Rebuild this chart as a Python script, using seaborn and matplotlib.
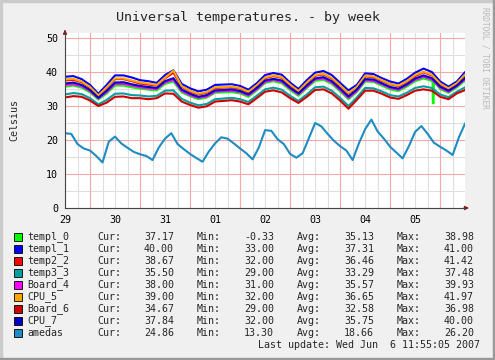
# -*- coding: utf-8 -*-
"""
Weekly temperature graph (RRDtool style) rebuilt with seaborn / matplotlib.
Saves out.png (495x360).
"""
import pandas as pd
import matplotlib
matplotlib.use("Agg")
import matplotlib.pyplot as plt
import matplotlib.dates as mdates
from matplotlib.patches import Rectangle
from matplotlib.ticker import MultipleLocator, NullFormatter
import seaborn as sns

# --- data ---
START = pd.Timestamp("2007-05-29 12:00")
END = pd.Timestamp("2007-06-06 11:55")
t_4h = pd.date_range(START, periods=49, freq="4h")   # band sensors
t_3h = pd.date_range(START, periods=65, freq="3h")   # amedas

templ_0 = [35.7, 36.0, 35.4, 34.0, 31.9, 33.7, 36.0, 36.0, 35.5, 35.1, 34.8, 34.6, 36.5,
           37.2, 34.0, 32.9, 32.0, 32.5, 33.9, 34.0, 34.1, 33.7, 32.7, 34.6, 36.8,
           37.3, 36.7, 34.7, 33.0, 35.3, 37.4, 37.7, 36.5, 34.3, 32.0, 34.1, 37.2,
           37.1, 36.0, 34.9, 34.4, 35.7, 37.3, 38.1, 37.4, 35.0, 33.9, 35.5, 37.5]
# short dropout of templ_0 on the 5th
templ_0_glitch_t = pd.to_datetime(["2007-06-05 20:20", "2007-06-05 20:30",
                                   "2007-06-05 20:50", "2007-06-05 21:00"])
templ_0_glitch_v = [37.3, 30.8, 30.8, 37.2]

templ_1 = [38.6, 38.8, 37.9, 36.2, 33.6, 36.2, 39.0, 39.0, 38.4, 37.6, 37.3, 36.8, 39.1,
           40.5, 36.5, 35.2, 34.3, 34.8, 36.2, 36.3, 36.4, 35.9, 34.8, 36.7, 39.1,
           39.7, 39.2, 36.9, 35.0, 37.6, 39.8, 40.3, 39.1, 36.8, 34.6, 36.2, 39.6,
           39.4, 38.2, 37.2, 36.6, 38.0, 39.8, 41.0, 40.0, 37.2, 35.7, 37.2, 40.0]

temp2_2 = [37.5, 37.7, 37.0, 35.4, 33.0, 35.3, 37.9, 37.9, 37.3, 36.6, 36.3, 36.0, 38.1,
           39.8, 35.6, 34.3, 33.4, 33.9, 35.3, 35.4, 35.5, 35.1, 34.0, 35.9, 38.2,
           38.8, 38.3, 36.1, 34.3, 36.7, 38.9, 39.3, 38.1, 35.9, 33.6, 35.4, 38.7,
           38.5, 37.4, 36.4, 35.8, 37.1, 38.8, 39.9, 39.0, 36.4, 35.0, 36.6, 39.0]

temp3_3 = [33.4, 33.8, 33.5, 32.3, 30.5, 31.8, 33.6, 33.7, 33.2, 33.1, 32.8, 33.0, 34.5,
           34.6, 32.1, 31.0, 30.2, 30.6, 32.0, 32.2, 32.4, 32.0, 31.2, 33.0, 34.9,
           35.4, 34.8, 33.0, 31.5, 33.4, 35.5, 35.7, 34.5, 32.4, 30.0, 32.5, 35.3,
           35.2, 34.3, 33.2, 32.8, 33.9, 35.3, 35.8, 35.3, 33.4, 32.6, 34.2, 35.5]

Board_4 = [36.2, 36.4, 35.8, 34.4, 32.2, 34.1, 36.5, 36.5, 36.0, 35.5, 35.2, 35.0, 36.9,
           37.7, 34.4, 33.2, 32.4, 32.8, 34.2, 34.4, 34.5, 34.1, 33.1, 34.9, 37.1,
           37.7, 37.1, 35.1, 33.4, 35.6, 37.8, 38.1, 36.9, 34.7, 32.4, 34.4, 37.6,
           37.4, 36.4, 35.3, 34.8, 36.1, 37.7, 38.6, 37.8, 35.4, 34.2, 35.8, 37.9]

CPU_5 = [37.8, 38.0, 37.2, 35.6, 33.1, 35.5, 38.1, 38.1, 37.5, 36.9, 36.6, 36.2, 38.3,
         40.4, 35.8, 34.5, 33.6, 34.1, 35.5, 35.6, 35.7, 35.3, 34.2, 36.1, 38.4,
         39.0, 38.5, 36.3, 34.4, 36.9, 39.1, 39.5, 38.3, 36.1, 33.8, 35.6, 38.9,
         38.7, 37.6, 36.5, 36.0, 37.3, 39.1, 40.1, 39.2, 36.6, 35.2, 36.7, 39.3]

Board_6 = [32.5, 32.9, 32.7, 31.6, 30.0, 31.0, 32.7, 32.8, 32.3, 32.3, 32.0, 32.3, 33.7,
           33.6, 31.3, 30.3, 29.5, 29.9, 31.3, 31.5, 31.7, 31.3, 30.5, 32.3, 34.2,
           34.6, 34.0, 32.3, 30.9, 32.7, 34.7, 34.9, 33.7, 31.6, 29.2, 31.8, 34.5,
           34.5, 33.6, 32.5, 32.1, 33.2, 34.5, 34.9, 34.5, 32.7, 32.0, 33.7, 34.7]

CPU_7 = [36.6, 36.9, 36.2, 34.7, 32.4, 34.5, 36.9, 37.0, 36.4, 35.9, 35.6, 35.3, 37.3,
         38.2, 34.8, 33.6, 32.7, 33.2, 34.6, 34.7, 34.9, 34.4, 33.4, 35.3, 37.5,
         38.0, 37.5, 35.4, 33.7, 36.0, 38.1, 38.5, 37.3, 35.1, 32.8, 34.8, 37.9,
         37.8, 36.7, 35.6, 35.1, 36.4, 38.1, 39.0, 38.2, 35.7, 34.5, 36.0, 38.3]

amedas = [22.0, 21.8, 18.8, 17.5, 16.9, 15.3, 13.4, 19.5, 21.0, 19.0, 17.7, 16.5, 15.8, 15.3, 14.1, 17.8, 20.4,
          22.0, 18.8, 17.3, 15.9, 14.7, 13.6, 16.6, 19.0, 20.8, 20.4, 19.0, 17.5, 16.1, 14.3, 17.8, 22.9,
          22.7, 20.2, 18.8, 15.9, 14.8, 16.1, 20.5, 25.0, 24.0, 21.8, 19.8, 18.2, 16.9, 14.1, 19.0, 23.2,
          26.0, 22.5, 20.4, 18.0, 16.3, 14.6, 18.2, 22.4, 24.1, 21.8, 19.2, 18.0, 16.9, 15.6, 20.8, 24.9]

names = ["templ_0", "templ_1", "temp2_2", "temp3_3", "Board_4",
         "CPU_5", "Board_6", "CPU_7", "amedas"]
colors = ["#00FF00", "#0000FF", "#FF0000", "#00A0A0", "#FF00FF",
          "#FFA500", "#CC0000", "#0000C0", "#1E8BC3"]

# legend statistics (as printed under the graph)
cur_vals = [37.17, 40.00, 38.67, 35.50, 38.00, 39.00, 34.67, 37.84, 24.86]
min_vals = [-0.33, 33.00, 32.00, 29.00, 31.00, 32.00, 29.00, 32.00, 13.30]
avg_vals = [35.13, 37.31, 36.46, 33.29, 35.57, 36.65, 32.58, 35.75, 18.66]
max_vals = [38.98, 41.00, 41.42, 37.48, 39.93, 41.97, 36.98, 40.00, 26.20]

# --- long-form table for seaborn ---
series = {
    "templ_0": (t_4h.append(templ_0_glitch_t), templ_0 + templ_0_glitch_v),
    "templ_1": (t_4h, templ_1),
    "temp2_2": (t_4h, temp2_2),
    "temp3_3": (t_4h, temp3_3),
    "Board_4": (t_4h, Board_4),
    "CPU_5": (t_4h, CPU_5),
    "Board_6": (t_4h, Board_6),
    "CPU_7": (t_4h, CPU_7),
    "amedas": (t_3h, amedas),
}
frames = [pd.DataFrame({"time": t, "temp": v, "series": n}) for n, (t, v) in series.items()]
df = pd.concat(frames, ignore_index=True)

# --- style ---
sns.set_theme(style="white")
plt.rcParams["font.family"] = ["DejaVu Sans Mono"]
BACK = "#F0F0F0"
GRID = "#DEDEDE"
MGRID = "#F5A8A8"
ARROW = "#7F1F1F"
FS = 7.2

W, H = 495, 360
fig = plt.figure(figsize=(W / 100, H / 100), dpi=100, facecolor=BACK)
ax = fig.add_axes([65 / W, 1 - 208 / H, 400 / W, 175 / H])
ax.set_facecolor("white")

def fx(px):
    return px / W

def fy(py):
    return 1 - py / H

sns.lineplot(data=df, x="time", y="temp", hue="series", hue_order=names,
             palette=dict(zip(names, colors)), estimator=None, sort=True,
             linewidth=1.5, legend=False, ax=ax, zorder=3)

# axes limits / grid
ax.set_xlim(START, END)
ax.set_ylim(0, 51.47)
ax.yaxis.set_major_locator(MultipleLocator(10))
ax.yaxis.set_minor_locator(MultipleLocator(5))
ax.xaxis.set_major_locator(mdates.HourLocator(byhour=[12]))
ax.xaxis.set_major_formatter(mdates.DateFormatter("%d"))
ax.xaxis.set_minor_locator(mdates.HourLocator(byhour=[0, 6, 18]))
ax.xaxis.set_minor_formatter(NullFormatter())
ax.set_axisbelow(True)
ax.grid(which="minor", axis="both", color=GRID, linewidth=0.8, zorder=0)
ax.grid(which="major", axis="x", color=GRID, linewidth=0.8, zorder=0)
ax.grid(which="major", axis="y", color=MGRID, linewidth=0.8, zorder=1)
for d in pd.date_range("2007-05-30", "2007-06-06", freq="D"):
    ax.axvline(d, color=MGRID, linewidth=0.8, zorder=1)

ax.tick_params(which="both", length=0, labelsize=FS, colors="black")
ax.tick_params(axis="y", pad=5)
ax.tick_params(axis="x", pad=5)
ax.set_xlabel("")
ax.set_ylabel("")

for s in ["top", "right"]:
    ax.spines[s].set_visible(False)
for s in ["left", "bottom"]:
    ax.spines[s].set_color("#444444")
    ax.spines[s].set_linewidth(0.8)
    ax.spines[s].set_zorder(4)

# little rrdtool arrows at the axis ends
ax.annotate("", xy=(0, 1.035), xycoords="axes fraction", xytext=(0, 0.99),
            arrowprops=dict(arrowstyle="-|>", color=ARROW, lw=0.8, mutation_scale=6),
            annotation_clip=False)
ax.annotate("", xy=(1.017, 0), xycoords="axes fraction", xytext=(0.99, 0),
            arrowprops=dict(arrowstyle="-|>", color=ARROW, lw=0.8, mutation_scale=6),
            annotation_clip=False)

# title, axis label, watermark
fig.text(0.5, fy(17), "Universal temperatures. - by week", ha="center", va="center",
         fontsize=9.6)
fig.text(fx(14), fy(120), "Celsius", rotation=90, ha="center", va="center", fontsize=FS)
fig.text(fx(485), fy(7), "RRDTOOL / TOBI OETIKER", rotation=270, ha="center", va="top",
         fontsize=5.6, color="#B8B8B8")

# legend block
for i, name in enumerate(names):
    y = fy(237 + 12 * i)
    fig.patches.append(Rectangle((fx(14), y - 4 / H), 8 / W, 8 / H, transform=fig.transFigure,
                                 facecolor=colors[i], edgecolor="black", linewidth=0.6))
    fig.text(fx(27), y, name, ha="left", va="center", fontsize=FS)
    for lab, lx, vals, rx in [("Cur:", 97, cur_vals, 174), ("Min:", 197, min_vals, 274),
                              ("Avg:", 297, avg_vals, 374), ("Max:", 397, max_vals, 474)]:
        fig.text(fx(lx), y, lab, ha="left", va="center", fontsize=FS)
        fig.text(fx(rx), y, f"{vals[i]:.2f}", ha="right", va="center", fontsize=FS)
fig.text(fx(480), fy(345), "Last update: Wed Jun  6 11:55:05 2007", ha="right", va="center",
         fontsize=FS)

# image frame shading
fig.patches.append(Rectangle((0, 0), 2 / W, 1, transform=fig.transFigure, color="#CBCBCB"))
fig.patches.append(Rectangle((0, 1 - 2 / H), 1, 2 / H, transform=fig.transFigure, color="#CBCBCB"))
fig.patches.append(Rectangle((1 - 2 / W, 0), 2 / W, 1, transform=fig.transFigure, color="#999999"))
fig.patches.append(Rectangle((0, 0), 1, 2 / H, transform=fig.transFigure, color="#999999"))

fig.savefig("out.png", dpi=100, facecolor=BACK)
